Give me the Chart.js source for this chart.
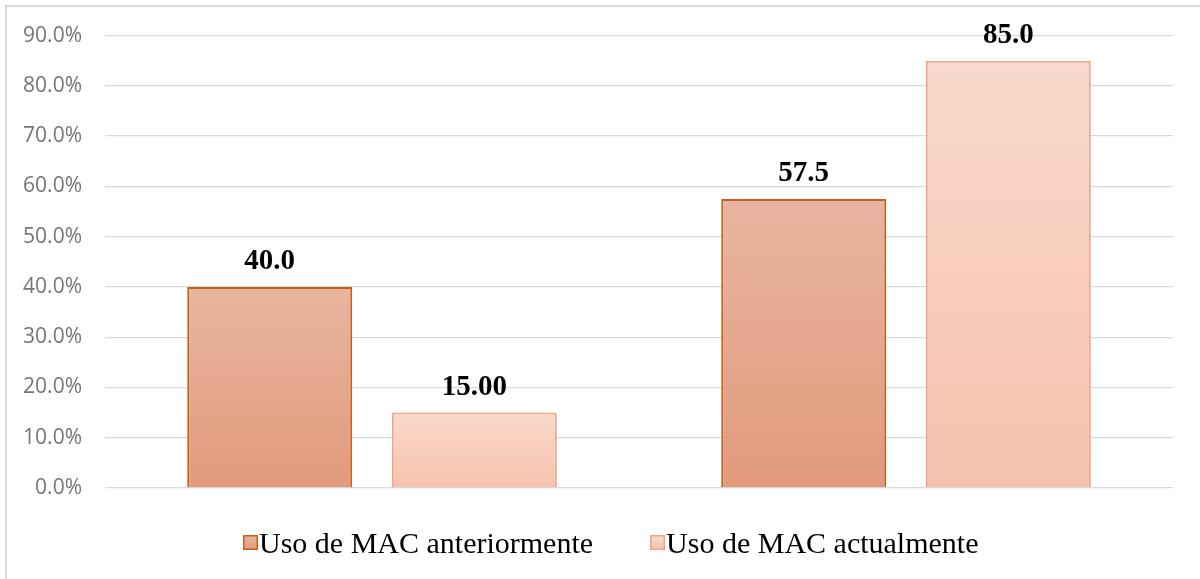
<!DOCTYPE html>
<html>
<head>
<meta charset="utf-8">
<script src="https://cdn.jsdelivr.net/npm/chart.js@4"></script>
<style>
  html, body { margin: 0; padding: 0; background: #fff; overflow: hidden; }
  #wrap { position: absolute; left: 0; top: 0; width: 1200px; height: 579px; }
</style>
</head>
<body>
<div id="wrap"><canvas id="grafico"></canvas></div>
<script>
// Datos
const categorias = ['Grupo 1', 'Grupo 2'];
const seriesNombres = ['Uso de MAC anteriormente', 'Uso de MAC actualmente'];
const usoAnterior = [40.0, 57.5];
const usoActual = [15.0, 85.0];
const etiquetasAnterior = ['40.0', '57.5'];
const etiquetasActual = ['15.00', '85.0'];
const ejeMin = 0, ejeMax = 90, ejePaso = 10;

// Colores (degradado arriba -> abajo)
const estilos = [
  { arriba: '#E8B5A0', abajo: '#E29A7C', borde: '#C8601A' },
  { arriba: '#F9D9CD', abajo: '#F6C2AD', borde: '#F2A286' }
];

function degradado(ctx, est) {
  const chart = ctx.chart;
  if (!chart.chartArea || ctx.raw === undefined) return est.abajo;
  const y = chart.scales.y;
  const top = y.getPixelForValue(ctx.raw);
  const bottom = y.getPixelForValue(0);
  const g = chart.ctx.createLinearGradient(0, top, 0, bottom);
  g.addColorStop(0, est.arriba);
  g.addColorStop(1, est.abajo);
  return g;
}

// Etiquetas de datos encima de las barras
const etiquetasPlugin = {
  id: 'etiquetas',
  afterDatasetsDraw(chart) {
    const ctx = chart.ctx;
    const textos = [etiquetasAnterior, etiquetasActual];
    ctx.save();
    ctx.font = 'bold 29px "Liberation Serif", "Times New Roman", serif';
    ctx.fillStyle = '#000';
    ctx.textAlign = 'center';
    ctx.textBaseline = 'alphabetic';
    chart.data.datasets.forEach((ds, i) => {
      chart.getDatasetMeta(i).data.forEach((bar, j) => {
        ctx.fillText(textos[i][j], bar.x, bar.y - 18);
      });
    });
    ctx.restore();
  }
};

// Borde exterior y leyenda
const marcoLeyenda = {
  id: 'marcoLeyenda',
  beforeDraw(chart) {
    const ctx = chart.ctx;
    ctx.save();
    ctx.fillStyle = '#d9d9d9';
    ctx.fillRect(5, 5, 2, chart.height);
    ctx.fillRect(5, 5, chart.width, 2);
    ctx.restore();
  },
  afterDraw(chart) {
    const ctx = chart.ctx;
    const area = chart.chartArea;
    ctx.save();
    ctx.font = '30px "Liberation Serif", "Times New Roman", serif';
    ctx.textBaseline = 'alphabetic';
    let x = area.left + 138;
    const base = 553;
    const caja = 15;
    seriesNombres.forEach((nombre, i) => {
      const est = estilos[i];
      const g = ctx.createLinearGradient(0, base - 18, 0, base - 18 + caja);
      g.addColorStop(0, est.arriba);
      g.addColorStop(1, est.abajo);
      ctx.fillStyle = g;
      ctx.fillRect(x, base - 18, caja, caja);
      ctx.strokeStyle = est.borde;
      ctx.lineWidth = 1.5;
      ctx.strokeRect(x + 0.75, base - 18 + 0.75, caja - 1.5, caja - 1.5);
      ctx.fillStyle = '#000';
      ctx.fillText(nombre, x + caja + 1, base);
      x += caja + 1 + ctx.measureText(nombre).width + 57;
    });
    ctx.restore();
  }
};

new Chart(document.getElementById('grafico'), {
  type: 'bar',
  data: {
    labels: categorias,
    datasets: [
      {
        label: seriesNombres[0],
        data: usoAnterior,
        backgroundColor: (c) => degradado(c, estilos[0]),
        borderColor: estilos[0].borde,
        borderWidth: 2,
        categoryPercentage: 0.766,
        barPercentage: 0.807
      },
      {
        label: seriesNombres[1],
        data: usoActual,
        backgroundColor: (c) => degradado(c, estilos[1]),
        borderColor: estilos[1].borde,
        borderWidth: 2,
        categoryPercentage: 0.766,
        barPercentage: 0.807
      }
    ]
  },
  options: {
    responsive: true,
    maintainAspectRatio: false,
    animation: false,
    layout: { padding: { left: 0, top: 35, right: 27, bottom: 91 } },
    plugins: {
      legend: { display: false },
      tooltip: { enabled: false }
    },
    scales: {
      x: { display: false },
      y: {
        min: ejeMin,
        max: ejeMax,
        afterFit(scale) { scale.width = 105; },
        border: { display: false },
        grid: { color: '#d9d9d9', lineWidth: 1.3, drawTicks: false },
        ticks: {
          stepSize: ejePaso,
          padding: 23,
          color: '#767676',
          font: { family: '"Open Sans", "Noto Sans", sans-serif', size: 21 },
          callback: (v) => v.toFixed(1) + '%'
        }
      }
    }
  },
  plugins: [etiquetasPlugin, marcoLeyenda]
});
</script>
</body>
</html>
